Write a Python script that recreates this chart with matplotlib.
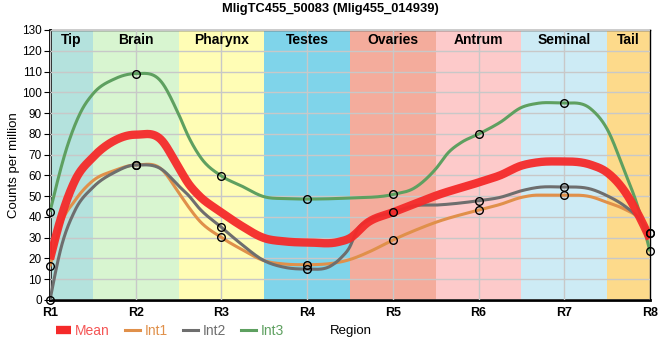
import numpy as np
import matplotlib
matplotlib.use("Agg")
import matplotlib.pyplot as plt
from matplotlib.lines import Line2D

plt.rcParams['font.family'] = ['Liberation Sans', 'DejaVu Sans']

# ---- data (values at each region, marked with circles) ----
regions = ["R1", "R2", "R3", "R4", "R5", "R6", "R7", "R8"]
int1 = [16.2, 65.0, 30.1, 17.0, 28.9, 43.3, 50.5, 32.5]
int2 = [0.0, 65.0, 35.0, 14.9, 42.2, 47.8, 54.4, 32.5]
int3 = [42.5, 109.0, 59.7, 48.6, 50.8, 79.9, 94.8, 23.4]
mean = [19.6, 79.6, 42.2, 27.7, 42.2, 56.6, 66.7, 29.5]

# ---- curve path values between regions ----
path_x_int1 = [0.13, 0.29, 0.5, 0.75, 1.3, 1.5, 1.62, 1.74, 2.23, 2.5, 2.74, 3.5, 3.74, 4.25, 4.5, 5.25, 5.5, 5.69, 6.31, 6.5, 6.7, 6.86]
path_y_int1 = [36.6, 47.8, 57.4, 62.3, 63.0, 51.8, 44.6, 38.3, 24.5, 18.9, 17.3, 19.5, 23.5, 33.4, 37.4, 46.0, 49.4, 50.5, 49.7, 47.0, 43.8, 39.8]

path_x_int2 = [0.13, 0.29, 0.5, 0.75, 1.3, 1.5, 1.62, 1.74, 2.23, 2.5, 2.74, 3.28, 3.4, 3.49, 3.59, 3.71, 4.25, 4.5, 5.25, 5.5, 5.69, 6.31, 6.5, 6.7, 6.86]
path_y_int2 = [25.3, 43.0, 54.2, 61.4, 63.0, 55.0, 50.2, 44.2, 27.0, 18.9, 15.7, 16.5, 20.5, 25.0, 34.2, 38.2, 45.4, 45.7, 49.4, 52.6, 54.2, 53.4, 50.2, 45.4, 39.8]

path_x_int3 = [0.21, 0.365, 0.5, 0.75, 1.3, 1.5, 1.62, 1.76, 2.23, 2.5, 2.75, 3.48, 4.25, 4.5, 4.65, 4.8, 5.25, 5.5, 5.69, 6.31, 6.5, 6.7, 6.86]
path_y_int3 = [75.1, 91.0, 99.2, 106.4, 105.0, 89.5, 78.3, 68.5, 55.0, 49.7, 48.8, 49.1, 53.9, 63.1, 71.1, 75.9, 85.5, 92.7, 94.7, 92.0, 82.3, 62.3, 44.6]

path_x_mean = [0.13, 0.29, 0.5, 0.75, 1.3, 1.5, 1.62, 1.73, 2.23, 2.5, 2.74, 3.36, 3.5, 3.71, 4.25, 4.5, 5.25, 5.5, 5.69, 6.31, 6.5, 6.7, 6.86]
path_y_mean = [39.8, 57.4, 68.7, 76.7, 77.0, 63.8, 55.8, 50.6, 35.8, 29.8, 28.2, 27.9, 29.8, 37.4, 46.2, 50.2, 60.0, 64.7, 66.3, 65.1, 61.4, 52.6, 41.4]

bands = ["Tip", "Brain", "Pharynx", "Testes", "Ovaries", "Antrum", "Seminal", "Tail"]
band_colors = ["#b4e2dd", "#d8f5d0", "#fffdb5", "#7fd4ea", "#f4ac9c", "#fdcaca", "#cdebf5", "#fdda8b"]
title = "MligTC455_50083 (Mlig455_014939)"
y_label = "Counts per million"
x_label = "Region"


def smooth(x, y, n=30):
    """Cubic Hermite curve through the knots; tangents are the weighted
    secant average, set flat where the curve turns."""
    x = np.asarray(x, float); y = np.asarray(y, float)
    m = len(x)
    h = np.diff(x); s = np.diff(y) / h
    t = np.zeros(m)
    for i in range(1, m - 1):
        if s[i - 1] * s[i] > 0:
            t[i] = (s[i - 1] * h[i] + s[i] * h[i - 1]) / (h[i - 1] + h[i])
    t[0] = (3 * s[0] - t[1]) / 2
    t[-1] = (3 * s[-1] - t[-2]) / 2
    xs, ys = [], []
    for i in range(m - 1):
        u = np.linspace(0, 1, n)
        h00 = 2 * u**3 - 3 * u**2 + 1
        h10 = u**3 - 2 * u**2 + u
        h01 = -2 * u**3 + 3 * u**2
        h11 = u**3 - u**2
        xs.append(x[i] + u * h[i])
        ys.append(h00 * y[i] + h10 * h[i] * t[i] + h01 * y[i + 1] + h11 * h[i] * t[i + 1])
    return np.concatenate(xs), np.concatenate(ys)


def path(vals, px, py):
    xs = list(range(len(vals))) + list(px)
    ys = list(vals) + list(py)
    order = np.argsort(xs)
    return smooth(np.array(xs)[order], np.array(ys)[order])


fig = plt.figure(figsize=(6.6, 3.6), dpi=100)
ax = fig.add_axes([50 / 660, 60 / 360, 600 / 660, 270 / 360])
xpos = np.arange(len(regions))
ax.set_xlim(0, len(regions) - 1)
ax.set_ylim(0, 130)

for i, (b, c) in enumerate(zip(bands, band_colors)):
    lo = max(i - 0.5, 0); hi = min(i + 0.5, len(regions) - 1)
    ax.axvspan(lo, hi, color=c, zorder=0, lw=0)
    ax.text((lo + hi) / 2, 125, b, ha='center', va='center', fontsize=10, fontweight='bold', zorder=5)

ax.set_yticks(np.arange(0, 131, 10))
ax.set_xticks(xpos)
ax.set_xticklabels(regions, fontweight='bold', fontsize=9)
ax.tick_params(axis='y', labelsize=8.5, length=4, pad=2)
ax.tick_params(axis='x', length=0, pad=5)
ax.grid(True, color='#c8c8c8', lw=1, zorder=1)
ax.set_axisbelow(False)
for sp in ['left', 'bottom']:
    ax.spines[sp].set_linewidth(2)
for sp in ['top', 'right']:
    ax.spines[sp].set_linewidth(1)

c1, c2, c3, cm = '#e0904a', '#6e6e6e', '#5ea060', '#f52a2a'
for vals, px, py, col in [(int1, path_x_int1, path_y_int1, c1),
                          (int2, path_x_int2, path_y_int2, c2),
                          (int3, path_x_int3, path_y_int3, c3)]:
    cx, cy = path(vals, px, py)
    ax.plot(cx, cy, color=col, lw=2.2, zorder=3, solid_capstyle='butt')
cx, cy = path(mean, path_x_mean, path_y_mean)
ax.plot(cx, cy, color=cm, lw=6, zorder=4, alpha=0.95, solid_capstyle='butt')
for vals in [int1, int2, int3]:
    ax.plot(xpos, vals, 'o', mfc='none', mec='black', ms=5.5, mew=1, zorder=6, clip_on=False)

ax.set_ylabel(y_label, fontsize=9.5, labelpad=1)
fig.text(0.5, 0.975, title, ha='center', va='center', fontsize=9.3, fontweight='bold')
fig.text(351 / 660, 29 / 360, x_label, ha='center', va='center', fontsize=9.5)

handles = [Line2D([], [], color=cm, lw=6, solid_capstyle='butt'),
           Line2D([], [], color=c1, lw=2.2),
           Line2D([], [], color=c2, lw=2.2),
           Line2D([], [], color=c3, lw=2.2)]
leg = fig.legend(handles, ['Mean', 'Int1', 'Int2', 'Int3'], loc='center left',
                 bbox_to_anchor=(43 / 660, 29 / 360), ncol=4, frameon=False, fontsize=10,
                 handlelength=1.1, handletextpad=0.3, columnspacing=1.1, borderpad=0.4)
for txt, col in zip(leg.get_texts(), ['#f55555', '#e0904a', '#6e6e6e', '#5ea060']):
    txt.set_color(col)

fig.savefig("out.png", dpi=100)
